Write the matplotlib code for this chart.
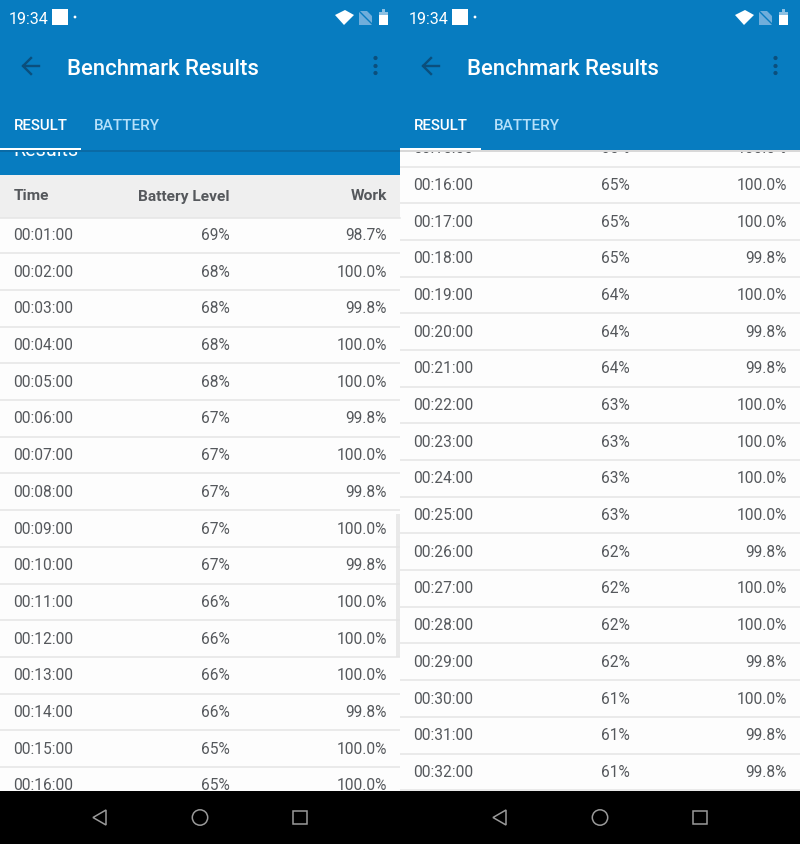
import matplotlib
matplotlib.use("Agg")
import matplotlib.pyplot as plt
from matplotlib.patches import Rectangle, Polygon, Circle

plt.rcParams["font.family"] = ["Roboto", "DejaVu Sans"]

times_left = ["00:01:00", "00:02:00", "00:03:00", "00:04:00", "00:05:00", "00:06:00",
              "00:07:00", "00:08:00", "00:09:00", "00:10:00", "00:11:00", "00:12:00",
              "00:13:00", "00:14:00", "00:15:00", "00:16:00"]
battery_left = [69, 68, 68, 68, 68, 67, 67, 67, 67, 67, 66, 66, 66, 66, 65, 65]
work_left = [98.7, 100.0, 99.8, 100.0, 100.0, 99.8, 100.0, 99.8, 100.0, 99.8,
             100.0, 100.0, 100.0, 99.8, 100.0, 100.0]

times_right = ["00:15:00", "00:16:00", "00:17:00", "00:18:00", "00:19:00", "00:20:00",
               "00:21:00", "00:22:00", "00:23:00", "00:24:00", "00:25:00", "00:26:00",
               "00:27:00", "00:28:00", "00:29:00", "00:30:00", "00:31:00", "00:32:00"]
battery_right = [65, 65, 65, 65, 64, 64, 64, 63, 63, 63, 63, 62, 62, 62, 62, 61, 61, 61]
work_right = [100.0, 100.0, 100.0, 99.8, 100.0, 99.8, 99.8, 100.0, 100.0, 100.0,
              100.0, 99.8, 100.0, 100.0, 99.8, 100.0, 99.8, 99.8]

BLUE = "#077cc0"
DARK = "#0b4f7d"
TEXT = "#55585c"
ROW_H = 36.69
ROW_FS = 11.2


def draw_rows(ax, x0, y_first, times, battery, work):
    clip = Rectangle((x0, 150), 400, 641, transform=ax.transData)
    for i, (t, b, w) in enumerate(zip(times, battery, work)):
        y = y_first + i * ROW_H
        for tx, s, ha in ((x0 + 13.5, t, "left"), (x0 + 230, f"{b}%", "right"),
                          (x0 + 387, f"{w:.1f}%", "right")):
            txt = ax.text(tx, y, s, ha=ha, va="center_baseline", fontsize=ROW_FS, color=TEXT, zorder=3)
            txt.set_clip_path(clip)
        ax.plot([x0, x0 + 400], [y + 19.3, y + 19.3], color="#e5e5e5", lw=1.1,
                solid_capstyle="butt", zorder=2)


def draw_chrome(ax, x0, shadow):
    # app bar, status bar and tabs
    ax.add_patch(Rectangle((x0, 0), 400, 150, fc=BLUE, ec="none", zorder=5))
    ax.add_patch(Rectangle((x0, 150), 400, 1.5, fc=shadow, ec="none", zorder=4))
    ax.text(x0 + 9, 18, "19:34", fontsize=11.6, color="white", va="center_baseline", zorder=6)
    ax.add_patch(Rectangle((x0 + 52, 9), 16, 16, fc="white", ec="none", zorder=6))
    ax.add_patch(Circle((x0 + 75, 17), 1.4, fc="white", ec="none", zorder=6))
    ax.add_patch(Polygon([(x0 + 335, 15), (x0 + 345, 10), (x0 + 354, 15), (x0 + 344, 25)],
                         fc="white", ec="none", zorder=6))
    ax.add_patch(Polygon([(x0 + 359, 25), (x0 + 359, 11), (x0 + 367, 11), (x0 + 372, 16), (x0 + 372, 25)],
                         fc="#70aedb", ec="none", zorder=6))
    ax.plot([x0 + 359, x0 + 373], [11, 25], color=BLUE, lw=1, zorder=7)
    ax.add_patch(Rectangle((x0 + 379, 12), 9, 13, fc="#8cc0e3", ec="none", zorder=6))
    ax.add_patch(Rectangle((x0 + 382, 9), 3, 3, fc="#8cc0e3", ec="none", zorder=6))
    ax.add_patch(Rectangle((x0 + 379, 15), 9, 10, fc="white", ec="none", zorder=7))

    ax.plot([x0 + 39, x0 + 23, x0 + 31], [66, 66, 58], color=DARK, lw=1.7, zorder=6)
    ax.plot([x0 + 23, x0 + 31], [66, 74], color=DARK, lw=1.7, zorder=6)
    ax.text(x0 + 67, 67, "Benchmark Results", fontsize=15.9, color="white",
            fontweight="medium", va="center_baseline", zorder=6)
    for y in (58, 66, 73):
        ax.add_patch(Circle((x0 + 375.5, y), 2.1, fc=DARK, ec="none", zorder=6))

    ax.text(x0 + 13.5, 124, "RESULT", fontsize=10.85, color="white", fontweight="medium",
            va="center_baseline", zorder=6)
    ax.text(x0 + 94, 124, "BATTERY", fontsize=10.95, color="#b5e0fa", fontweight="medium",
            va="center_baseline", zorder=6)
    ax.add_patch(Rectangle((x0, 147.5), 80.5, 2.2, fc="white", ec="none", zorder=7))

    # navigation bar
    ax.add_patch(Rectangle((x0, 791), 400, 53, fc="black", ec="none", zorder=5))
    ax.add_patch(Polygon([(x0 + 93, 817.5), (x0 + 106, 810), (x0 + 106, 825)], closed=True,
                         fc="none", ec="#9a9a9a", lw=1.1, zorder=6))
    ax.add_patch(Circle((x0 + 200, 817.5), 7.7, fc="none", ec="#9a9a9a", lw=1.1, zorder=6))
    ax.add_patch(Rectangle((x0 + 293, 811), 13.5, 13, fc="none", ec="#9a9a9a", lw=1.1, zorder=6))


fig = plt.figure(figsize=(8, 8.44), dpi=100, facecolor="#fdfdfd")
ax = fig.add_axes([0, 0, 1, 1])
ax.set_xlim(0, 800)
ax.set_ylim(844, 0)
ax.axis("off")

# left screen, table header sits under the blue results band
ax.add_patch(Rectangle((0, 150), 400, 26, fc=BLUE, ec="none", zorder=1))
ax.add_patch(Rectangle((0, 175), 400, 42.5, fc="#efefef", ec="none", zorder=1))
ax.plot([0, 400], [217.5, 217.5], color="#e5e5e5", lw=1.1, zorder=2)
ax.text(13.5, 195, "Time", fontsize=11.15, fontweight="bold", color=TEXT, va="center_baseline", zorder=3)
ax.text(230, 195, "Battery Level", fontsize=11.15, fontweight="bold", color=TEXT,
        ha="right", va="center_baseline", zorder=3)
ax.text(387, 195, "Work", fontsize=11.15, fontweight="bold", color=TEXT,
        ha="right", va="center_baseline", zorder=3)
ax.text(13.5, 148.5, "Results", fontsize=14.2, color="white", va="center_baseline", zorder=3)

draw_rows(ax, 0, 234, times_left, battery_left, work_left)
draw_rows(ax, 400, 147.2, times_right, battery_right, work_right)

# scrollbar on the left screen
ax.add_patch(Rectangle((396, 514), 4, 143, fc="#e9e9e9", ec="none", zorder=1))

draw_chrome(ax, 0, "#0a6aa5")
draw_chrome(ax, 400, "#d8d8d8")

fig.savefig("out.png", dpi=100, facecolor=fig.get_facecolor())
